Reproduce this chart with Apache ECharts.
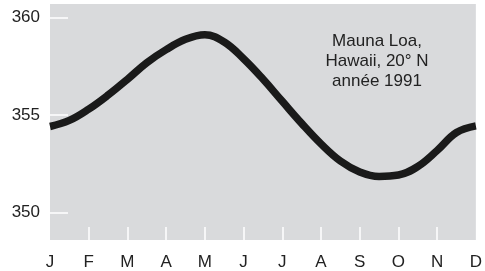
<!DOCTYPE html>
<html>
<head>
<meta charset="utf-8">
<script src="https://cdn.jsdelivr.net/npm/echarts@6/dist/echarts.min.js"></script>
<style>
  html, body { margin: 0; padding: 0; background: #fff; }
  #chart { width: 485px; height: 271px; }
</style>
</head>
<body>
<div id="chart"></div>
<script>
// mois (J = 0 ... D = 11)
var months = ['J', 'F', 'M', 'A', 'M', 'J', 'J', 'A', 'S', 'O', 'N', 'D'];
// position sur l'axe des mois, lue tous les demi-mois
var monthPos = [0, 0.5, 1, 1.5, 2, 2.5, 3, 3.5, 4, 4.5, 5, 5.5,
                6, 6.5, 7, 7.5, 8, 8.5, 9, 9.5, 10, 10.5, 11];
// CO2 en ppm
var co2 = [354.42, 354.73, 355.31, 356.03, 356.84, 357.69, 358.36, 358.89,
           359.12, 358.75, 357.89, 356.85, 355.71, 354.58, 353.53, 352.65,
           352.09, 351.86, 351.93, 352.37, 353.19, 354.11, 354.45];
var yTicks = [350, 355, 360];
var xTicks = [1, 2, 3, 4, 5, 6, 7, 8, 9, 10];

var chart = echarts.init(document.getElementById('chart'));

chart.setOption({
  animation: false,
  textStyle: { fontFamily: 'Liberation Sans, Arial, sans-serif' },
  grid: {
    left: 50, right: 7, top: 4, bottom: 31,
    show: true,
    backgroundColor: '#d9dadc',
    borderWidth: 0
  },
  xAxis: {
    type: 'value',
    min: 0,
    max: 11,
    interval: 1,
    axisLine: { show: false },
    splitLine: { show: false },
    axisTick: {
      inside: true,
      length: 13,
      customValues: xTicks,
      lineStyle: { color: '#ffffff', width: 1.5 }
    },
    axisLabel: {
      margin: 14,
      fontSize: 17,
      color: '#222',
      showMinLabel: true,
      showMaxLabel: true,
      formatter: function (v) { return months[v]; }
    }
  },
  yAxis: {
    type: 'value',
    min: 348.6,
    max: 360.7,
    axisLine: { show: false },
    splitLine: { show: false },
    axisTick: {
      inside: true,
      length: 18,
      customValues: yTicks,
      lineStyle: { color: '#ffffff', width: 1.5 }
    },
    axisLabel: {
      margin: 10,
      fontSize: 17,
      color: '#222',
      customValues: yTicks
    }
  },
  graphic: [{
    type: 'text',
    x: 377,
    y: 31,
    style: {
      text: 'Mauna Loa,\nHawaii, 20° N\nannée 1991',
      align: 'center',
      textAlign: 'center',
      verticalAlign: 'top',
      font: '17px Liberation Sans, Arial, sans-serif',
      lineHeight: 20,
      fill: '#222'
    }
  }],
  series: [{
    type: 'line',
    smooth: 0.4,
    symbol: 'none',
    data: co2.map(function (v, i) { return [monthPos[i], v]; }),
    lineStyle: { color: '#1a1a1a', width: 7.5 }
  }]
});
</script>
</body>
</html>
